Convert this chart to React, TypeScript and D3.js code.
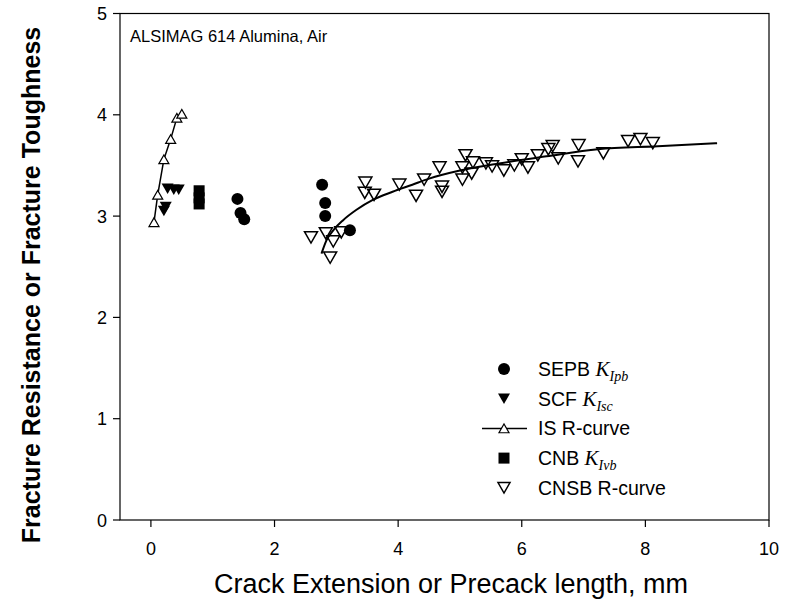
import React from "react";
import * as d3 from "d3";

const sepbX = [1.40, 1.45, 1.51, 2.77, 2.82, 2.82, 3.22];
const sepbY = [3.17, 3.03, 2.97, 3.31, 3.13, 3.00, 2.86];

const scfX = [0.27, 0.37, 0.45, 0.24, 0.21];
const scfY = [3.27, 3.26, 3.26, 3.09, 3.05];

const isX = [0.05, 0.11, 0.21, 0.32, 0.42, 0.50];
const isY = [2.94, 3.21, 3.56, 3.76, 3.97, 4.01];

const cnbX = [0.78, 0.78, 0.78];
const cnbY = [3.25, 3.18, 3.12];

const cnsbX = [2.59, 2.83, 2.95, 3.08, 2.90, 3.47, 3.46, 3.61, 4.02, 4.29, 4.42, 4.67, 4.71, 4.71, 5.04, 5.04, 5.09, 5.19, 5.21, 5.42, 5.52, 5.71, 5.88, 6.00, 6.10, 6.26, 6.43, 6.50, 6.59, 6.92, 6.91, 7.32, 7.72, 7.92, 8.12];
const cnsbY = [2.79, 2.83, 2.75, 2.84, 2.59, 3.33, 3.23, 3.21, 3.31, 3.20, 3.36, 3.48, 3.29, 3.24, 3.48, 3.36, 3.60, 3.42, 3.53, 3.52, 3.49, 3.45, 3.50, 3.56, 3.48, 3.60, 3.66, 3.69, 3.57, 3.70, 3.54, 3.62, 3.74, 3.76, 3.72];

const fitX = [2.76, 2.84, 2.95, 3.11, 3.32, 3.59, 3.91, 4.23, 4.50, 5.00, 5.63, 6.40, 7.23, 8.20, 9.16];
const fitY = [2.63, 2.76, 2.86, 2.96, 3.06, 3.16, 3.24, 3.31, 3.37, 3.45, 3.52, 3.59, 3.66, 3.69, 3.72];

const xTicks = [0, 2, 4, 6, 8, 10];
const yTicks = [0, 1, 2, 3, 4, 5];

const W = 788, H = 606;
const L = 120, R = 769, T = 13.5, B = 520;

const x = d3.scaleLinear().domain([-0.5, 10]).range([L, R]);
const y = d3.scaleLinear().domain([0, 5]).range([B, T]);

const triDown = (cx: number, cy: number, w: number) => {
  const h = w * 0.87;
  return `M${cx - w / 2},${cy - h / 2}L${cx + w / 2},${cy - h / 2}L${cx},${cy + h / 2}Z`;
};
const triUp = (cx: number, cy: number, w: number) => {
  const h = w * 0.87;
  return `M${cx - w / 2},${cy + h / 2}L${cx + w / 2},${cy + h / 2}L${cx},${cy - h / 2}Z`;
};

const SANS = "Arial, 'Liberation Sans', Helvetica, sans-serif";
const SERIF = "'Times New Roman', 'Liberation Serif', serif";

export default function App() {
  const isLine = d3.line<number>().x((_, i) => x(isX[i])).y((_, i) => y(isY[i]))(isX.map((_, i) => i)) || "";
  const fitLine = d3.line<number>().curve(d3.curveMonotoneX).x((_, i) => x(fitX[i])).y((_, i) => y(fitY[i]))(fitX.map((_, i) => i)) || "";

  const legendRows = [
    { label: "SEPB ", sub: "Ipb", kind: "circle" },
    { label: "SCF ", sub: "Isc", kind: "tridown" },
    { label: "IS R-curve", sub: "", kind: "is" },
    { label: "CNB ", sub: "Ivb", kind: "square" },
    { label: "CNSB R-curve", sub: "", kind: "cnsb" },
  ];
  const legY0 = 369, legDy = 29.7, legMX = 504, legTX = 538;

  return (
    <svg width={W} height={H} style={{ position: "absolute", left: 0, top: 0, background: "#fff" }}>
      <rect x={0} y={0} width={W} height={H} fill="#fff" />
      <rect x={L} y={T} width={R - L} height={B - T} fill="none" stroke="#000" strokeWidth={1.2} />
      {yTicks.map((t) => (
        <g key={"y" + t}>
          <line x1={L - 7} x2={L} y1={y(t)} y2={y(t)} stroke="#000" strokeWidth={1.2} />
          <text x={107} y={y(t) + 6.5} textAnchor="end" fontFamily={SANS} fontSize={18}>{t}</text>
        </g>
      ))}
      {xTicks.map((t) => (
        <g key={"x" + t}>
          <line x1={x(t)} x2={x(t)} y1={B} y2={B + 7} stroke="#000" strokeWidth={1.2} />
          <text x={x(t)} y={555} textAnchor="middle" fontFamily={SANS} fontSize={18}>{t}</text>
        </g>
      ))}
      <text x={451} y={593} textAnchor="middle" fontFamily={SANS} fontSize={27}>Crack Extension or Precack length, mm</text>
      <text transform={`translate(40,285) rotate(-90)`} textAnchor="middle" fontFamily={SANS} fontSize={25} fontWeight="bold">Fracture Resistance or Fracture Toughness</text>
      <text x={130} y={42} fontFamily={SANS} fontSize={16.5}>ALSIMAG 614 Alumina, Air</text>

      <path d={fitLine} fill="none" stroke="#000" strokeWidth={2} />
      {cnsbX.map((v, i) => (
        <path key={"cn" + i} d={triDown(x(v), y(cnsbY[i]), 13)} fill="none" stroke="#000" strokeWidth={1.5} />
      ))}
      <path d={isLine} fill="none" stroke="#000" strokeWidth={1.5} />
      {isX.map((v, i) => (
        <path key={"is" + i} d={triUp(x(v), y(isY[i]), 10)} fill="#fff" stroke="#000" strokeWidth={1.2} />
      ))}
      {scfX.map((v, i) => (
        <path key={"scf" + i} d={triDown(x(v), y(scfY[i]), 12)} fill="#000" />
      ))}
      {cnbX.map((v, i) => (
        <rect key={"cnb" + i} x={x(v) - 5.5} y={y(cnbY[i]) - 5.5} width={11} height={11} fill="#000" />
      ))}
      {sepbX.map((v, i) => (
        <circle key={"se" + i} cx={x(v)} cy={y(sepbY[i])} r={6} fill="#000" />
      ))}

      {legendRows.map((r, i) => {
        const cy = legY0 + i * legDy;
        let m: React.ReactNode = null;
        if (r.kind === "circle") m = <circle cx={legMX} cy={cy} r={6} fill="#000" />;
        else if (r.kind === "tridown") m = <path d={triDown(legMX, cy, 12)} fill="#000" />;
        else if (r.kind === "square") m = <rect x={legMX - 5.5} y={cy - 5.5} width={11} height={11} fill="#000" />;
        else if (r.kind === "is")
          m = (
            <g>
              <line x1={482} x2={527} y1={cy} y2={cy} stroke="#000" strokeWidth={1.5} />
              <path d={triUp(legMX, cy, 10)} fill="#fff" stroke="#000" strokeWidth={1.2} />
            </g>
          );
        else m = <path d={triDown(legMX, cy, 12)} fill="none" stroke="#000" strokeWidth={1.5} />;
        return (
          <g key={"leg" + i}>
            {m}
            <text x={legTX} y={cy + 7} fontFamily={SANS} fontSize={19.5}>
              {r.label}
              {r.sub ? (
                <>
                  <tspan fontFamily={SERIF} fontStyle="italic" fontSize={21}>K</tspan>
                  <tspan fontFamily={SERIF} fontStyle="italic" fontSize={14} dy={5}>{r.sub}</tspan>
                </>
              ) : null}
            </text>
          </g>
        );
      })}
    </svg>
  );
}
